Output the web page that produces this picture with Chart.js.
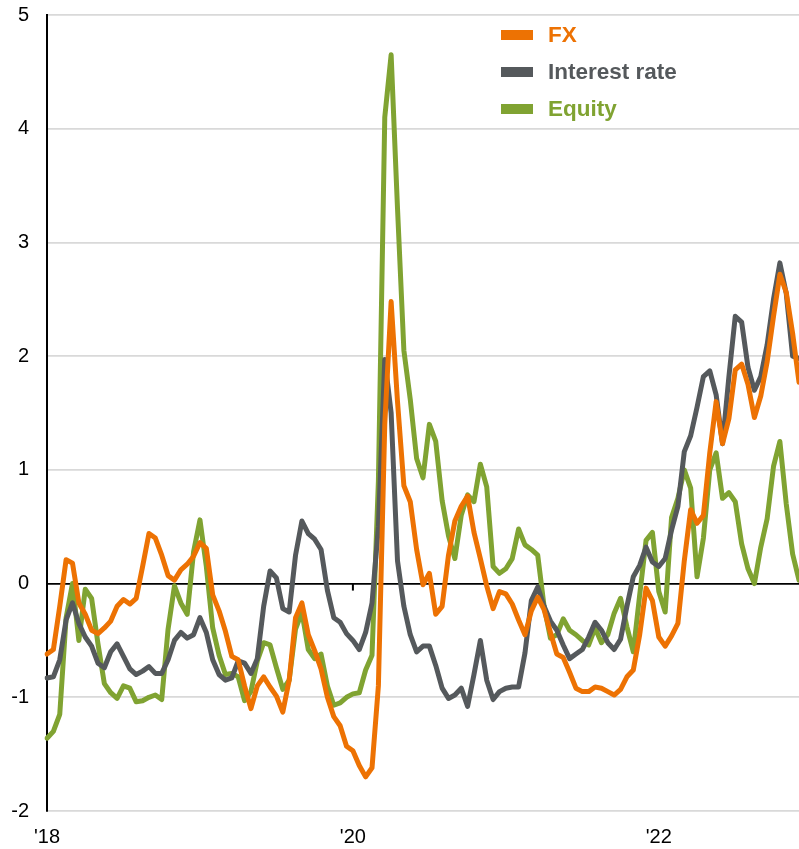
<!DOCTYPE html>
<html>
<head>
<meta charset="utf-8">
<title>FX, interest rate and equity</title>
<script src="https://cdn.jsdelivr.net/npm/chart.js@4.4.1/dist/chart.umd.min.js"></script>
<style>
  html, body { margin: 0; padding: 0; background: #fff; }
  #wrap { position: relative; width: 799px; height: 849px; }
  #legend {
    position: absolute; left: 501px; top: 16px;
    font-family: 'Liberation Sans', Arial, sans-serif;
    font-weight: bold; font-size: 22.5px;
  }
  .item { display: flex; align-items: center; height: 37.2px; }
  .sw { width: 32px; height: 10px; margin-right: 15px; }
</style>
</head>
<body>
<div id="wrap">
  <canvas id="chart"></canvas>
  <div id="legend"></div>
</div>
<script>
// semi-monthly observations, Jan 2018 .. Nov 2022
const periods = [];
for (let i = 0; i < 119; i++) {
  const y = 2018 + Math.floor(i / 24);
  const m = Math.floor((i % 24) / 2) + 1;
  periods.push(y + '-' + String(m).padStart(2, '0') + (i % 2 ? '-16' : '-01'));
}

const seriesNames = ['FX', 'Interest rate', 'Equity'];
const seriesColors = ['#ED7203', '#55595C', '#80A332'];

const fx = [
  -0.62, -0.58, -0.2, 0.21, 0.18, -0.17, -0.27, -0.41, -0.44, -0.39,
  -0.33, -0.2, -0.14, -0.18, -0.13, 0.15, 0.44, 0.4, 0.25, 0.07,
  0.03, 0.12, 0.17, 0.24, 0.36, 0.31, -0.1, -0.24, -0.42, -0.64,
  -0.67, -0.9, -1.1, -0.9, -0.82, -0.91, -0.99, -1.13, -0.85, -0.3,
  -0.17, -0.45, -0.59, -0.75, -1.0, -1.17, -1.25, -1.43, -1.47, -1.6,
  -1.7, -1.62, -0.9, 1.4, 2.48, 1.6, 0.86, 0.72, 0.3, -0.01,
  0.09, -0.27, -0.2, 0.25, 0.55, 0.68, 0.77, 0.45, 0.22, -0.02,
  -0.22, -0.07, -0.09, -0.18, -0.32, -0.45, -0.24, -0.12, -0.23, -0.43,
  -0.62, -0.65, -0.78, -0.92, -0.95, -0.95, -0.91, -0.92, -0.95, -0.98,
  -0.93, -0.82, -0.76, -0.45, -0.04, -0.15, -0.47, -0.55, -0.46, -0.35,
  0.2, 0.65, 0.53, 0.6, 1.15, 1.6, 1.23, 1.45, 1.88, 1.93,
  1.75, 1.46, 1.65, 1.95, 2.35, 2.72, 2.56, 2.2, 1.77
];

const interestRate = [
  -0.83, -0.82, -0.67, -0.32, -0.17, -0.35, -0.47, -0.55, -0.7, -0.74,
  -0.6, -0.53, -0.64, -0.75, -0.8, -0.77, -0.73, -0.79, -0.79, -0.67,
  -0.5, -0.43, -0.48, -0.45, -0.3, -0.43, -0.67, -0.8, -0.85, -0.83,
  -0.68, -0.7, -0.79, -0.66, -0.2, 0.11, 0.05, -0.22, -0.25, 0.25,
  0.55, 0.44, 0.39, 0.3, -0.06, -0.3, -0.34, -0.44, -0.5, -0.58,
  -0.43, -0.17, 0.5, 1.97, 1.5, 0.2, -0.2, -0.45, -0.6, -0.55,
  -0.55, -0.72, -0.92, -1.01, -0.98, -0.92, -1.08, -0.8, -0.5, -0.85,
  -1.02, -0.95, -0.92, -0.91, -0.91, -0.61, -0.15, -0.03, -0.2, -0.33,
  -0.41, -0.54, -0.66, -0.62, -0.58, -0.47, -0.34, -0.41, -0.52, -0.58,
  -0.49, -0.2, 0.06, 0.16, 0.32, 0.19, 0.15, 0.22, 0.47, 0.68,
  1.16, 1.3, 1.55, 1.82, 1.87, 1.66, 1.23, 1.82, 2.35, 2.3,
  1.9, 1.7, 1.82, 2.1, 2.5, 2.82, 2.55, 2.0, 1.98
];

const equity = [
  -1.36, -1.3, -1.15, -0.3, 0.0, -0.5, -0.05, -0.13, -0.53, -0.88,
  -0.96, -1.01, -0.9, -0.92, -1.04, -1.03, -1.0, -0.98, -1.02, -0.4,
  -0.02, -0.17, -0.27, 0.28, 0.56, 0.15, -0.39, -0.63, -0.8, -0.79,
  -0.82, -1.03, -0.95, -0.68, -0.52, -0.54, -0.74, -0.93, -0.85, -0.4,
  -0.25, -0.58, -0.66, -0.62, -0.9, -1.07, -1.05, -1.0, -0.97, -0.96,
  -0.76, -0.63, 0.9, 4.1, 4.65, 3.3, 2.05, 1.62, 1.1, 0.93,
  1.4, 1.25, 0.73, 0.42, 0.22, 0.6, 0.78, 0.72, 1.05, 0.85,
  0.15, 0.09, 0.13, 0.22, 0.48, 0.34, 0.3, 0.25, -0.2, -0.48,
  -0.45, -0.31, -0.41, -0.45, -0.5, -0.54, -0.39, -0.52, -0.45, -0.26,
  -0.13, -0.38, -0.6, -0.1, 0.38, 0.45, -0.07, -0.25, 0.58, 0.75,
  1.0, 0.84, 0.06, 0.4, 1.0, 1.15, 0.75, 0.8, 0.72, 0.35,
  0.13, 0.0, 0.32, 0.57, 1.03, 1.25, 0.7, 0.26, 0.03
];

const tickYears = ['2018', '2020', '2022'];
const tickLabels = ["'18", "'20", "'22"];

const FONT = "'Liberation Sans', Arial, sans-serif";

function tickText(label) {
  if (!label.endsWith('-01-01')) return '';
  const k = tickYears.indexOf(label.slice(0, 4));
  return k >= 0 ? tickLabels[k] : '';
}

// little ticks hanging from the zero line at the labelled years
const zeroTicks = {
  id: 'zeroTicks',
  beforeDatasetsDraw(chart) {
    const { ctx, scales } = chart;
    const y0 = scales.y.getPixelForValue(0);
    ctx.save();
    ctx.strokeStyle = '#000';
    ctx.lineWidth = 2;
    periods.forEach((p, i) => {
      if (tickText(p) === '') return;
      const x = scales.x.getPixelForValue(i);
      ctx.beginPath();
      ctx.moveTo(x, y0);
      ctx.lineTo(x, y0 + 7);
      ctx.stroke();
    });
    ctx.restore();
  }
};

const allSeries = [fx, interestRate, equity];

new Chart(document.getElementById('chart'), {
  type: 'line',
  data: {
    labels: periods,
    datasets: allSeries.map((d, k) => ({
      label: seriesNames[k],
      data: d,
      borderColor: seriesColors[k],
      backgroundColor: seriesColors[k],
      borderWidth: 5,
      borderJoinStyle: 'round',
      borderCapStyle: 'round',
      pointRadius: 0,
      tension: 0
    }))
  },
  options: {
    responsive: true,
    maintainAspectRatio: false,
    animation: false,
    layout: { padding: { top: 15, right: 0, bottom: 0, left: 0 } },
    plugins: {
      legend: { display: false },
      tooltip: { enabled: false }
    },
    scales: {
      x: {
        type: 'category',
        offset: false,
        grid: { display: false, drawTicks: false },
        border: { display: false },
        ticks: {
          autoSkip: false,
          maxRotation: 0,
          padding: 14,
          color: '#000',
          font: { family: FONT, size: 20 },
          callback(value) { return tickText(this.getLabelForValue(value)); }
        },
        afterFit(scale) {
          scale.height = 38;
          scale.paddingLeft = 0;
          scale.paddingRight = 0;
        }
      },
      y: {
        min: -2,
        max: 5,
        ticks: {
          stepSize: 1,
          padding: 18,
          color: '#000',
          font: { family: FONT, size: 20 }
        },
        grid: {
          drawTicks: false,
          color: c => (c.tick && c.tick.value === 0 ? '#000' : '#d9d9d9'),
          lineWidth: 1.7
        },
        border: { display: true, color: '#000', width: 2 },
        afterFit(scale) {
          scale.width = 47;
          scale.paddingTop = 0;
          scale.paddingBottom = 0;
        }
      }
    }
  },
  plugins: [zeroTicks]
});

// legend
const legend = document.getElementById('legend');
seriesNames.forEach((name, k) => {
  const row = document.createElement('div');
  row.className = 'item';
  row.innerHTML = `<span class="sw" style="background:${seriesColors[k]}"></span><span style="color:${seriesColors[k]}">${name}</span>`;
  legend.appendChild(row);
});
</script>
</body>
</html>
